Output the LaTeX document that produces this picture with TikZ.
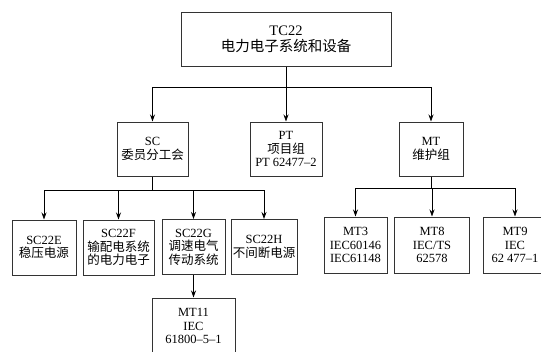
\documentclass[tikz,border=0pt]{standalone}
\usepackage{fontspec}
\setmainfont{Liberation Serif}
\newfontfamily\cjk{Noto Sans CJK SC}
\usetikzlibrary{arrows.meta}

\begin{document}
\begin{tikzpicture}[x=1pt,y=-1pt,
  box/.style={draw=black!80, line width=1pt, align=center, inner sep=0pt,
    minimum height=54pt, font=\fontsize{12.5}{13.5}\selectfont},
  wire/.style={line width=0.8pt},
  link/.style={wire, -{Stealth[length=7pt,width=5pt]}}]

\useasboundingbox (0,0) rectangle (541,351);

% top level
\node[box, minimum width=210pt, font=\fontsize{14.5}{16}\selectfont] (tc) at (286,39) {TC22\\{\cjk 电力电子系统和设备}};

% second level
\node[box, minimum width=71pt] (sc) at (152.5,149) {SC\\{\cjk 委员分工会}};
\node[box, minimum width=72pt] (pt) at (286,149) {PT\\{\cjk 项目组}\\PT 62477–2};
\node[box, minimum width=64pt] (mt) at (431,149) {MT\\{\cjk 维护组}};

% subcommittees
\node[box, minimum width=64pt, minimum height=55pt] (sce) at (44,247.5) {SC22E\\{\cjk 稳压电源}};
\node[box, minimum width=71pt, minimum height=55pt] (scf) at (118.5,247.5) {SC22F\\{\cjk 输配电系统}\\{\cjk 的电力电子}};
\node[box, minimum width=63pt, minimum height=55pt] (scg) at (193.5,247) {SC22G\\{\cjk 调速电气}\\{\cjk 传动系统}};
\node[box, minimum width=66pt, minimum height=55pt] (sch) at (264,247) {SC22H\\{\cjk 不间断电源}};
\node[box, minimum width=83pt, minimum height=56pt] (mt11) at (193.5,326) {MT11\\IEC\\61800–5–1};

% maintenance teams
\node[box, minimum width=63pt, minimum height=56pt] (mt3) at (355.5,245) {MT3\\IEC60146\\IEC61148};
\node[box, minimum width=75pt, minimum height=56pt] (mt8) at (432,245) {MT8\\IEC/TS\\62578};
\node[box, minimum width=64pt, minimum height=56pt] (mt9) at (515,245) {MT9\\IEC\\62 477–1};

% connectors
\path (tc.south) ++(0,21) coordinate (tcbus);
\draw[wire] (tc.south) -- (tcbus);
\foreach \n in {sc,pt,mt}
  \draw[link] (tcbus) -| (\n.north);

\path (sc.south) ++(0,14) coordinate (scbus);
\draw[wire] (sc.south) -- (scbus);
\foreach \n in {sce,scf,scg,sch}
  \draw[link] (scbus) -| (\n.north);

\path (mt.south) ++(0,12) coordinate (mtbus);
\draw[wire] (mt.south) -- (mtbus);
\foreach \n in {mt3,mt8,mt9}
  \draw[link] (mtbus) -| (\n.north);

\draw[link] (scg) -- (mt11);

\end{tikzpicture}
\end{document}
